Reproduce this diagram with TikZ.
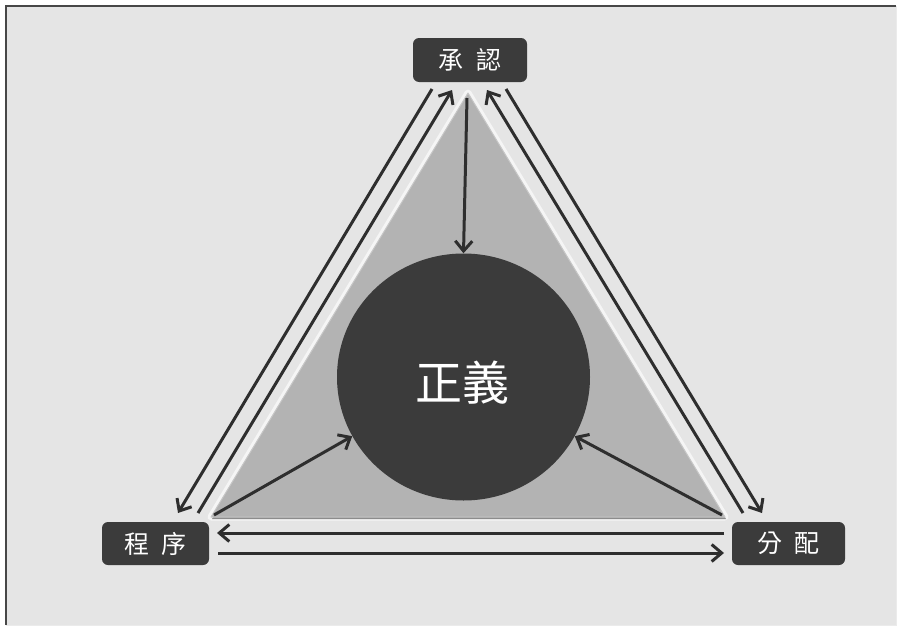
\documentclass[tikz,border=0pt]{standalone}
\usepackage{fontspec}
\newfontfamily\cjk{Noto Sans CJK TC}
\usetikzlibrary{arrows.meta,shapes.geometric}
\definecolor{bgc}{HTML}{E5E5E5}
\definecolor{boxc}{HTML}{3B3B3B}
\definecolor{triC}{HTML}{B3B3B3}
\definecolor{arrc}{HTML}{2E2E2E}
\tikzset{
  label box/.style={draw=none, fill=boxc, rounded corners=6pt, text=white,
    font=\cjk\fontsize{25}{25}\selectfont, inner sep=0pt, anchor=center},
  conn/.style={draw=arrc, line width=3pt,
    -{Straight Barb[length=10pt,width=17pt,line width=3pt]}}
}
\begin{document}
\begin{tikzpicture}[x=1pt,y=-1pt]
\useasboundingbox (0,0) rectangle (900,629);
\fill[white] (0,0) rectangle (900,629);
\fill[bgc] (6,6) rectangle (896,625);
\draw[line width=1pt, draw=white!92!black] (896,6) -- (896,625) -- (6,625);
\draw[line width=2.5pt, draw=black!72] (6,625) -- (6,6) -- (896,6);

% triangle
\coordinate (A) at (468,93);
\coordinate (B) at (211,517);
\coordinate (C) at (725,517);
\draw[line width=7pt, draw=white!96!black, line join=round] (A) -- (B) -- (C) -- cycle;
\fill[black!45, line join=round] ([shift={(1,2)}]A) -- ([shift={(1,2)}]B) -- ([shift={(1,2)}]C) -- cycle;
\filldraw[fill=triC, draw=black!22, line width=1pt, line join=round] (A) -- (B) -- (C) -- cycle;

% circle
\node[ellipse, fill=boxc, minimum width=253pt, minimum height=247pt, inner sep=0pt] (circ) at (463.5,377) {};
\node[text=white, font=\cjk\fontsize{47}{47}\selectfont, inner sep=0pt] (jus) at (462,383) {正義};

% boxes
\node[label box, minimum width=114pt, minimum height=44pt] (top) at (470,60) {承\hspace{0.5em}認};
\node[label box, minimum width=107pt, minimum height=43pt] (left) at (155.5,543.5) {程\hspace{0.5em}序};
\node[label box, minimum width=113pt, minimum height=43pt] (right) at (788.5,543.5) {分\hspace{0.5em}配};

% arrow endpoints
\coordinate (apexS) at (467,98);
\coordinate (blS) at (214,515);
\coordinate (brS) at (722,515);

\coordinate (lo1) at (432,89);  \coordinate (lo2) at (178,513);
\coordinate (li1) at (198,513); \coordinate (li2) at (452,90);
\coordinate (ri1) at (743,513); \coordinate (ri2) at (487,90);
\coordinate (ro1) at (506,89);  \coordinate (ro2) at (762,513);
\coordinate (h1s) at (724,533); \coordinate (h1e) at (217,533);
\coordinate (h2s) at (218,553); \coordinate (h2e) at (724,553);

\draw[conn] (apexS) -- (circ.north);
\draw[conn] (blS) -- (circ.208);
\draw[conn] (brS) -- (circ.332);

\draw[conn] (lo1) -- (lo2);
\draw[conn] (li1) -- (li2);
\draw[conn] (ri1) -- (ri2);
\draw[conn] (ro1) -- (ro2);
\draw[conn] (h1s) -- (h1e);
\draw[conn] (h2s) -- (h2e);
\end{tikzpicture}
\end{document}
